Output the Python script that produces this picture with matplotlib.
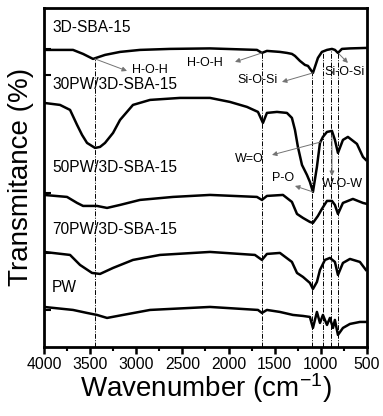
import matplotlib
matplotlib.use('Agg')
import matplotlib.pyplot as plt

plt.rcParams['font.family'] = ['Liberation Sans', 'DejaVu Sans']
plt.rcParams['mathtext.fontset'] = 'custom'
plt.rcParams['mathtext.rm'] = 'Liberation Sans'
plt.rcParams['mathtext.it'] = 'Liberation Sans'

# spectra (wavenumber in cm-1, transmittance stacked with offsets, a.u.)
sba_wn = [4000, 3686, 3577, 3469, 3339, 3176, 2960, 2635, 2201, 1692, 1638, 1584, 1443, 1367,
          1313, 1280, 1226, 1172, 1139, 1085, 1031, 988, 933, 879, 847, 814, 771, 684, 500]
sba_t = [297, 297, 293, 288, 292, 295, 297, 298, 298.5, 297, 294, 296, 295, 294,
         293, 291, 286, 282, 281, 274, 289, 295, 297, 298, 297, 294, 298, 298.5, 299]

pw30_wn = [4000, 3827, 3718, 3642, 3588, 3534, 3447, 3393, 3339, 3252, 3176, 3036, 2851, 2526,
           2201, 1985, 1800, 1681, 1627, 1584, 1475, 1367, 1313, 1280, 1248, 1204, 1150, 1118,
           1085, 1042, 1009, 977, 933, 879, 847, 814, 760, 706, 608, 543, 511]
pw30_t = [244, 242, 237, 222, 212, 204, 199, 200, 204, 214, 227, 242, 247, 249,
          249, 245, 240, 235, 224, 234, 235, 234, 229, 217, 200, 182, 172, 165,
          155, 180, 204, 210, 215, 216, 207, 194, 207, 210, 203, 190, 187]

pw50_wn = [4000, 3751, 3642, 3577, 3426, 3317, 3176, 2960, 2602, 2201, 1692, 1638, 1584, 1410,
           1313, 1258, 1193, 1118, 1085, 1031, 988, 933, 879, 847, 814, 760, 652, 543, 500]
pw50_t = [152, 150, 144, 141, 141, 139, 142, 147, 150, 152, 150, 147, 151, 152,
          145, 133, 129, 125, 124, 131, 138, 146, 146, 142, 133, 144, 148, 144, 143]

pw70_wn = [4000, 3718, 3610, 3480, 3393, 3252, 3036, 2743, 2201, 1714, 1638, 1584, 1443, 1313,
           1258, 1193, 1118, 1085, 1042, 1009, 955, 901, 847, 814, 760, 684, 576, 511]
pw70_t = [95, 92, 82, 74, 73, 79, 87, 92, 95, 92, 87, 93, 94, 85,
          74, 70, 64, 58, 65, 77, 87, 89, 85, 72, 84, 88, 85, 77]

pw_wn = [4000, 3686, 3534, 3426, 3317, 3144, 2851, 2201, 1681, 1638, 1584, 1443, 1302, 1193,
         1118, 1085, 1042, 1009, 977, 933, 901, 868, 847, 814, 760, 684, 576, 511, 500]
pw_t = [40, 37, 34, 32, 29, 32, 37, 40, 37, 34, 37, 35, 32, 31,
        30, 19, 35, 24, 32, 22, 29, 19, 27, 12, 19, 23, 25, 25, 25]

sample_names = ['3D-SBA-15', '30PW/3D-SBA-15', '50PW/3D-SBA-15', '70PW/3D-SBA-15', 'PW']

# band positions marked with dash-dot lines and where they start (top curve)
band_wn = [3450, 1640, 1090, 980, 885, 810]
band_top = [288, 294, 274, 295, 297, 297]

fig, ax = plt.subplots(figsize=(3.83, 4.16), dpi=100)
fig.subplots_adjust(left=0.115, right=0.958, bottom=0.166, top=0.981)

ax.vlines(band_wn, 0, band_top, colors='black', linestyles=(0, (5, 1.5, 1, 1.5)),
          linewidth=0.7, zorder=1)

for wn, t in [(sba_wn, sba_t), (pw30_wn, pw30_t), (pw50_wn, pw50_t), (pw70_wn, pw70_t), (pw_wn, pw_t)]:
    ax.plot(wn, t, color='black', linewidth=1.8, solid_joinstyle='round', zorder=3)

# sample labels
label_y = [319, 262, 179, 117, 59]
for name, y in zip(sample_names, label_y):
    ax.text(3913, y, name, fontsize=11.2, ha='left', va='center', zorder=4)

# band assignments
arrow = dict(arrowstyle='-|>', color='0.45', lw=0.7, mutation_scale=7, shrinkA=0, shrinkB=0)
ax.annotate('', xy=(3101, 276), xytext=(3447, 288), arrowprops=arrow)
ax.text(3046, 277, 'H-O-H', fontsize=9, va='center')
ax.annotate('', xy=(1930, 285), xytext=(1638, 294), arrowprops=arrow)
ax.text(2450, 284, 'H-O-H', fontsize=9, va='center')
ax.annotate('', xy=(1421, 265), xytext=(1085, 274), arrowprops=arrow)
ax.text(1909, 267, 'Si-O-Si', fontsize=9, va='center')
ax.annotate('', xy=(706, 284), xytext=(803, 293), arrowprops=arrow)
ax.text(966, 275, 'Si-O-Si', fontsize=9, va='center')
ax.annotate('', xy=(1529, 192), xytext=(998, 205), arrowprops=arrow)
ax.text(1930, 188, 'W=O', fontsize=9, va='center')
ax.annotate('', xy=(1280, 161), xytext=(1085, 155), arrowprops=arrow)
ax.text(1529, 169, 'P-O', fontsize=9, va='center')
ax.annotate('', xy=(879, 171), xytext=(879, 212), arrowprops=arrow)
ax.text(988, 163, 'W-O-W', fontsize=9, va='center')

ax.set_xlim(4000, 500)
ax.set_ylim(0, 339)
ax.set_xticks(range(4000, 499, -500))
ax.set_xticks(range(3750, 500, -500), minor=True)
ax.set_yticks([298, 272, 154, 94, 37])
ax.set_yticklabels([])
ax.tick_params(axis='x', direction='out', length=5, width=1.8, labelsize=11.3, pad=2)
ax.tick_params(axis='x', which='minor', direction='out', length=3, width=1.5)
ax.tick_params(axis='y', direction='in', length=5, width=1.5)
for s in ax.spines.values():
    s.set_linewidth(2)

ax.set_xlabel('Wavenumber (cm$^{\\mathregular{-1}}$)', fontsize=20, labelpad=0)
ax.set_ylabel('Transmitance (%)', fontsize=20, labelpad=4)

plt.savefig('out.png', dpi=100)
